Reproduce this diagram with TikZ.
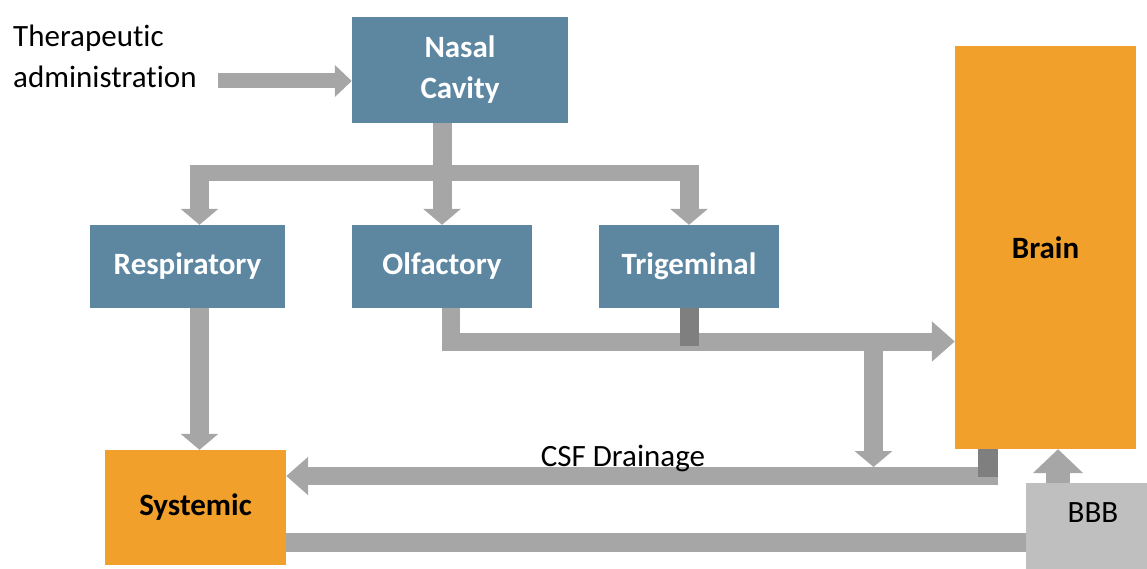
\documentclass[tikz,border=0pt]{standalone}
\usepackage{fontspec}
\setmainfont{Carlito}[Ligatures=NoCommon]
\usetikzlibrary{arrows.meta, positioning, calc}
\definecolor{cblue}{HTML}{5D87A1}
\definecolor{corange}{HTML}{F0A02B}
\definecolor{cpipe}{HTML}{A6A6A6}
\definecolor{cdark}{HTML}{7F7F7F}
\definecolor{cbbb}{HTML}{BFBFBF}
\tikzset{
  every picture/.style={font=\fontsize{31}{41}\selectfont},
  box/.style={fill=#1, draw=none, align=center, inner sep=0pt, font=\fontsize{31}{41}\selectfont\bfseries},
  box/.default=cblue,
  pipe/.style={draw=cpipe, line width=#1},
  pipe/.default=18pt,
  flow/.style={pipe=#1, -{Triangle[width=37pt, length=16pt]}},
  flow/.default=19pt,
  stub/.style={draw=cdark, line width=#1},
  stub/.default=19pt,
  lbl/.style={inner sep=0pt, text=black},
}

\begin{document}
\begin{tikzpicture}[x=1pt, y=-1pt,
  route/.style={box=cblue, text=white, minimum width=#1, minimum height=83pt},
  organ/.style={box=corange, text=black}]
  \useasboundingbox (0,0) rectangle (1147,569);
  % ---------- boxes ----------
  \node[lbl, align=left, anchor=base west] (admin) at (13,88) {Therapeutic\\administration};
  \node[box=cblue, text=white, minimum width=216pt, minimum height=106pt] (nasal) at (460,70) {Nasal\\Cavity};
  \node[route=195pt] (resp) at (187.5,266.5) {Respiratory};
  \node[route=180pt] (olf) at (442,266.5) {Olfactory};
  \node[route=180pt] (trig) at (689,266.5) {Trigeminal};
  \node[organ, minimum width=181pt, minimum height=403pt] (brain) at (1045.5,247.5) {Brain};
  \node[organ, minimum width=181pt, minimum height=115pt] (sys) at (195.5,507.5) {Systemic};
  \node[box=cbbb, minimum width=121pt, minimum height=86pt] (bbb) at (1086.5,526) {};
  \node[lbl] (bbbtext) at (1093,512.5) {BBB};
  % ---------- free ends ----------
  \coordinate (adminout) at (218,81);
  \coordinate (split) at (442,173);
  \coordinate (csfjoin) at (873.5,341.5);
  \coordinate (csfin) at (873.5,467);
  \coordinate (drain) at (998,476);
  % ---------- nasal cavity to the three routes ----------
  \draw[pipe=15pt, -{Triangle[width=31pt, length=17pt]}] (adminout) -- (adminout -| nasal.west);
  \draw[pipe=16pt] ([xshift=12pt]resp.north |- split) -- (trig.north |- split);
  \draw[flow] (olf.north |- nasal.south) -- (olf.north);
  \draw[flow] ($([xshift=12pt]resp.north |- split)+(0,-8)$) -- ([xshift=12pt]resp.north);
  \draw[flow] ($(trig.north |- split)+(0,-8)$) -- (trig.north);
  % ---------- routes onwards ----------
  \draw[flow] ([xshift=12pt]resp.south) -- ([xshift=12pt]resp.south |- sys.north);
  \draw[pipe, -{Triangle[width=39pt, length=23pt]}] ([xshift=9pt]olf.south) |- (csfjoin) -- (csfjoin -| brain.west);
  \draw[stub] (trig.south) -- ++(0,38);
  \draw[flow] (csfjoin) -- (csfin);
  % ---------- drainage and BBB ----------
  \draw[pipe, -{Triangle[width=37pt, length=22pt]}] (drain) -- (drain -| sys.east);
  \draw[stub=20pt] ([xshift=-57.5pt]brain.south) -- ++(0,28);
  \node[lbl, anchor=base] (csf) at (623,466) {CSF Drainage};
  \draw[pipe=19pt] ([yshift=-35pt]sys.east) -- ([yshift=-35pt]sys.east -| bbb.west);
  \draw[pipe=24pt, -{Triangle[width=49pt, length=24pt]}] ([xshift=-28.5pt]bbb.north) -- ([xshift=-28.5pt]bbb.north |- brain.south);
\end{tikzpicture}
\end{document}
